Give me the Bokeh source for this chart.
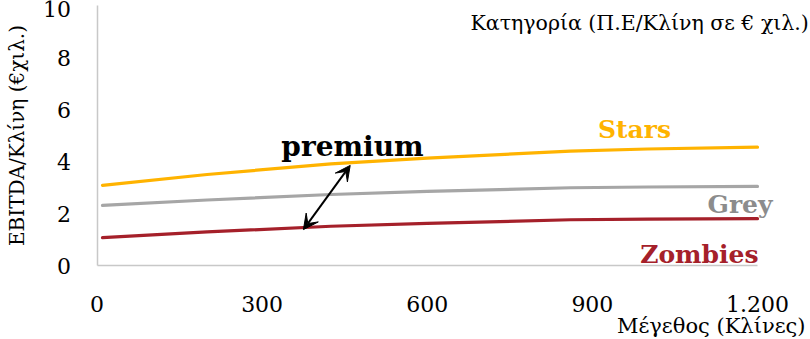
from bokeh.plotting import figure
from bokeh.models import Range1d, Label, Arrow, VeeHead, FixedTicker, LinearAxis
from bokeh.embed import file_html
from bokeh.resources import INLINE

# ---- data ----
beds = [10, 200, 425, 600, 860, 1000, 1200]
stars = [3.08, 3.50, 3.91, 4.13, 4.40, 4.48, 4.55]
grey = [2.31, 2.52, 2.73, 2.85, 2.99, 3.02, 3.04]
zombies = [1.07, 1.29, 1.51, 1.62, 1.76, 1.78, 1.80]
x_ticks = [0, 300, 600, 900, 1200]
x_tick_labels = ["0", "300", "600", "900", "1.200"]
y_ticks = [0, 2, 4, 6, 8, 10]
series_names = ["Stars", "Grey", "Zombies"]
x_title = "Μέγεθος (Κλίνες)"
y_title = "EBITDA/Κλίνη (€χιλ.)"
legend_title = "Κατηγορία  (Π.Ε/Κλίνη σε € χιλ.)"
premium_text = "premium"

# ---- layout / styles ----
W, H = 810, 339
FRAME_L, FRAME_R, FRAME_T, FRAME_B = 96.5, 757.0, 5.0, 265.0
X0, X1, Y0, Y1 = 0, 1200, 0, 10
kx = (FRAME_R - FRAME_L) / (X1 - X0)
ky = (FRAME_B - FRAME_T) / (Y1 - Y0)
xr = Range1d(X0 - FRAME_L / kx, X1 + (W - FRAME_R) / kx)
yr = Range1d(Y0 - (H - FRAME_B) / ky, Y1 + FRAME_T / ky)

SERIF = "DejaVu Serif"
C_STARS = "#FFB300"
C_GREY_LINE = "#A6A6A6"
C_GREY_TEXT = "#8C8C8C"
C_ZOMB = "#A5202A"
AXIS_C = "#C8C8C8"

p = figure(width=W, height=H, output_backend="svg", toolbar_location=None,
           x_range=xr, y_range=yr, x_axis_location=None, y_axis_location=None,
           min_border=0, min_border_left=0, min_border_right=0,
           min_border_top=0, min_border_bottom=0)
p.outline_line_color = None
p.grid.visible = False
p.background_fill_color = "white"
p.border_fill_color = "white"

xaxis = LinearAxis(fixed_location=0, bounds=(X0, X1),
                   ticker=FixedTicker(ticks=x_ticks),
                   major_label_overrides={t: l for t, l in zip(x_ticks, x_tick_labels)},
                   major_label_standoff=24)
yaxis = LinearAxis(fixed_location=0, bounds=(Y0, Y1),
                   ticker=FixedTicker(ticks=y_ticks),
                   major_label_standoff=20,
                   axis_label=y_title, axis_label_text_font=SERIF,
                   axis_label_text_font_style="normal",
                   axis_label_text_font_size="20px",
                   axis_label_text_color="black", axis_label_standoff=12)
for ax in (xaxis, yaxis):
    ax.axis_line_color = AXIS_C
    ax.axis_line_width = 1.5
    ax.major_tick_line_color = None
    ax.minor_tick_line_color = None
    ax.major_label_text_font = SERIF
    ax.major_label_text_font_size = "22px"
    ax.major_label_text_color = "black"
p.add_layout(xaxis, "below")
p.add_layout(yaxis, "left")

for ys, c in zip([stars, grey, zombies], [C_STARS, C_GREY_LINE, C_ZOMB]):
    p.line(beds, ys, line_color=c, line_width=3.2, line_cap="round")

# arrow between zombies and stars
arrow_from = (375, 1.38)
arrow_to = (460, 3.85)
p.add_layout(Arrow(x_start=arrow_from[0], y_start=arrow_from[1],
                   x_end=arrow_to[0], y_end=arrow_to[1],
                   line_color="black", line_width=2,
                   start=VeeHead(size=15, fill_color="black", line_color="black"),
                   end=VeeHead(size=15, fill_color="black", line_color="black")))

def lab(text, x, y, color, size, style="bold", align="center"):
    p.add_layout(Label(x=x, y=y, x_units="canvas", y_units="canvas",
                       text=text, text_color=color,
                       text_font=SERIF, text_font_size=size,
                       text_font_style=style, text_align=align,
                       text_baseline="middle"))

lab(premium_text, 352, 146, "black", "28px")
lab(series_names[0], 634, 129, C_STARS, "25px")
lab(series_names[1], 772, 204, C_GREY_TEXT, "25px", align="right")
lab(series_names[2], 758, 254, C_ZOMB, "25px", align="right")
lab(legend_title, 470, 22, "black", "20.5px", style="normal", align="left")
lab(x_title, 805, 325, "black", "21px", style="normal", align="right")

open("out.html", "w").write(file_html(p, INLINE))
